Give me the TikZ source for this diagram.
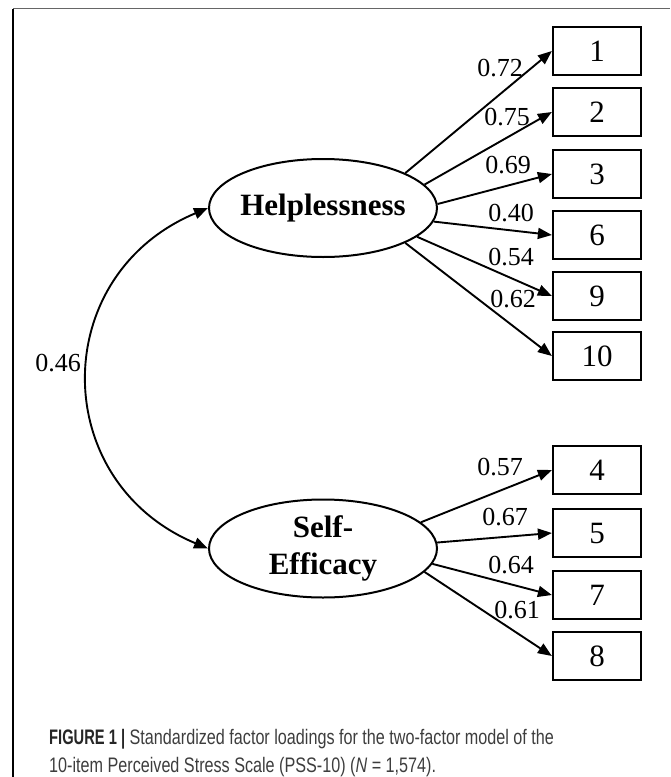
\documentclass[tikz,border=0pt]{standalone}
\usepackage{fontspec}
\setmainfont{Liberation Serif}
\newfontfamily\capfont[FakeStretch=0.77]{Liberation Sans}
\newfontfamily\capbfont[FakeStretch=0.70]{Liberation Sans}
\usetikzlibrary{arrows.meta,shapes.geometric}
\definecolor{capgray}{rgb}{0.24,0.24,0.24}
\definecolor{capbold}{rgb}{0.15,0.15,0.15}
\definecolor{framegray}{rgb}{0.4,0.4,0.4}
\begin{document}
\begin{tikzpicture}[x=1pt,y=-1pt,
  lat/.style={ellipse,draw,line width=2pt,minimum width=228pt,minimum height=98pt,inner xsep=-3pt,inner ysep=0pt,font=\bfseries\fontsize{31}{37}\selectfont,align=center},
  obs/.style={rectangle,draw,line width=2.2pt,minimum width=88pt,minimum height=48pt,inner sep=0pt,font=\fontsize{31}{36}\selectfont},
  loading/.style={line width=1.9pt,-{Triangle[length=14pt,width=11pt]}},
  lbl/.style={font=\fontsize{26}{30}\selectfont,inner sep=0pt},
  captxt/.style={anchor=base west,inner sep=0pt,font=\capfont\fontsize{21}{25}\selectfont,text=capgray}]
\useasboundingbox (0,0) rectangle (670,777);
% frame
\draw[framegray,line width=1.3pt] (13,8.5) -- (670,8.5);
\draw[black,line width=1.3pt] (13,8.5) -- (13,777);
% latent factors
\node[lat] (H) at (323,208) {Helplessness};
\node[lat] (S) at (323,548.5) {Self-\\Efficacy};
% items
\node[obs] (b1) at (597,51) {1};
\node[obs] (b2) at (597,112) {2};
\node[obs] (b3) at (597,174) {3};
\node[obs] (b6) at (597,235) {6};
\node[obs] (b9) at (597,296) {9};
\node[obs] (b10) at (597,356) {10};
\node[obs] (b4) at (597,470) {4};
\node[obs] (b5) at (597,533) {5};
\node[obs] (b7) at (597,595) {7};
\node[obs] (b8) at (597,656) {8};
% loadings
\draw[loading] (H.23) -- (b1.west);
\draw[loading] (H.13.8) -- (b2.west);
\draw[loading] (H.2.5) -- (b3.west);
\draw[loading] (H.-7.8) -- (b6.west);
\draw[loading] (H.-17.5) -- (b9.west);
\draw[loading] (H.-23.6) -- (b10.west);
\draw[loading] (S.15) -- (b4.west);
\draw[loading] (S.3.3) -- (b5.west);
\draw[loading] (S.-8.6) -- (b7.west);
\draw[loading] (S.-13.4) -- (b8.west);
% loading labels
\node[lbl] (l1) at (500,68) {0.72};
\node[lbl] (l2) at (507,117) {0.75};
\node[lbl] (l3) at (508,165) {0.69};
\node[lbl] (l6) at (511,213) {0.40};
\node[lbl] (l9) at (511,257) {0.54};
\node[lbl] (l10) at (513,299) {0.62};
\node[lbl] (l4) at (500,467) {0.57};
\node[lbl] (l5) at (505,517) {0.67};
\node[lbl] (l7) at (511,565) {0.64};
\node[lbl] (l8) at (517,610) {0.61};
% covariance
\coordinate (c1) at (48,275);
\coordinate (c2) at (48,481.5);
\draw[line width=1.9pt,{Triangle[length=14pt,width=11pt]}-{Triangle[length=14pt,width=11pt]}] (H.west) .. controls (c1) and (c2) .. (S.west);
\node[lbl] (cov) at (58,363) {0.46};
% caption
\node[captxt] (cap1) at (49,744) {{\capbfont\bfseries\color{capbold}FIGURE 1 |} Standardized factor loadings for the two-factor model of the};
\node[captxt] (cap2) at (49,772) {10-item Perceived Stress Scale (PSS-10) (\textit{N} = 1,574).};
\end{tikzpicture}
\end{document}
